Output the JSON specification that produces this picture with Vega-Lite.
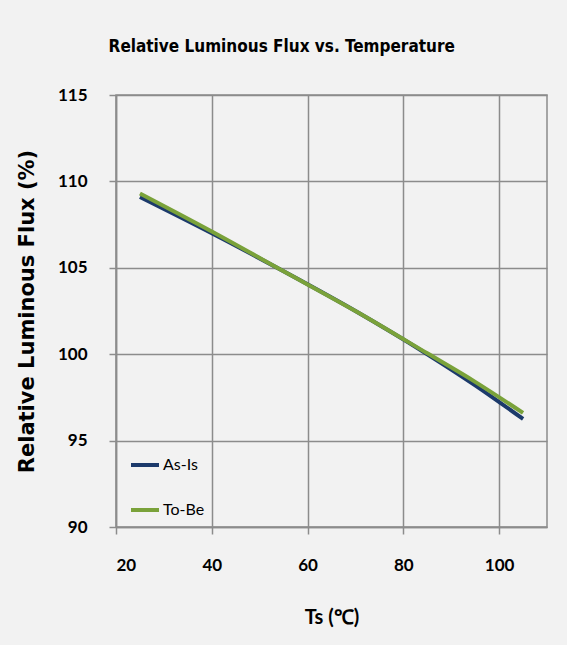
{
  "$schema": "https://vega.github.io/schema/vega-lite/v6.json",
  "autosize": {"type": "fit", "contains": "padding"},
  "width": 567,
  "height": 645,
  "padding": {"left": 16, "top": 38, "right": 20, "bottom": 18},
  "background": "#f2f2f2",
  "title": {
    "text": "Relative Luminous Flux vs. Temperature",
    "font": "DejaVu Sans Condensed, Lato",
    "fontSize": 17,
    "fontWeight": "bold",
    "color": "#000000",
    "offset": 30,
    "anchor": "middle",
    "frame": "bounds"
  },
  "config": {
    "view": {"stroke": "#8c8c8c", "strokeWidth": 1.5},
    "axis": {
      "gridColor": "#8c8c8c",
      "gridWidth": 1.5,
      "gridOpacity": 1,
      "domainColor": "#8c8c8c",
      "domainWidth": 1.5,
      "tickColor": "#8c8c8c",
      "tickWidth": 1.5,
      "tickSize": 7,
      "labelFont": "Lato",
      "labelFontWeight": "bold",
      "labelFontSize": 17,
      "labelColor": "#000000",
      "titleColor": "#000000"
    }
  },
  "data": {
    "values": [
      {"ts": 25, "flux": 109.1, "series": "As-Is"},
      {"ts": 40, "flux": 107.0, "series": "As-Is"},
      {"ts": 55, "flux": 104.8, "series": "As-Is"},
      {"ts": 70, "flux": 102.5, "series": "As-Is"},
      {"ts": 85, "flux": 100.0, "series": "As-Is"},
      {"ts": 95, "flux": 98.2, "series": "As-Is"},
      {"ts": 105, "flux": 96.25, "series": "As-Is"},
      {"ts": 25, "flux": 109.3, "series": "To-Be"},
      {"ts": 40, "flux": 107.1, "series": "To-Be"},
      {"ts": 55, "flux": 104.8, "series": "To-Be"},
      {"ts": 70, "flux": 102.5, "series": "To-Be"},
      {"ts": 85, "flux": 100.05, "series": "To-Be"},
      {"ts": 95, "flux": 98.4, "series": "To-Be"},
      {"ts": 105, "flux": 96.6, "series": "To-Be"}
    ]
  },
  "mark": {"type": "line", "strokeWidth": 4, "interpolate": "monotone"},
  "encoding": {
    "x": {
      "field": "ts",
      "type": "quantitative",
      "scale": {"domain": [20, 110], "nice": false, "zero": false},
      "axis": {
        "values": [20, 40, 60, 80, 100],
        "title": "Ts (℃)",
        "titleFont": "Lato",
        "titleFontSize": 20,
        "titleFontWeight": "bold",
        "titlePadding": 34,
        "labelPadding": 23
      }
    },
    "y": {
      "field": "flux",
      "type": "quantitative",
      "scale": {"domain": [90, 115], "nice": false, "zero": false},
      "axis": {
        "values": [90, 95, 100, 105, 110, 115],
        "title": "Relative Luminous Flux (%)",
        "titleFont": "DejaVu Sans",
        "titleFontSize": 21,
        "titleFontWeight": "bold",
        "titlePadding": 20,
        "labelPadding": 22
      }
    },
    "color": {
      "field": "series",
      "type": "nominal",
      "scale": {"domain": ["As-Is", "To-Be"], "range": ["#1c3a6b", "#7aa23a"]},
      "legend": {
        "title": null,
        "orient": "none",
        "legendX": 13,
        "legendY": 354,
        "symbolType": "stroke",
        "symbolStrokeWidth": 4,
        "symbolSize": 784,
        "labelFont": "Lato",
        "labelFontSize": 16,
        "labelColor": "#000000",
        "labelOffset": 2,
        "rowPadding": 21
      }
    }
  }
}
